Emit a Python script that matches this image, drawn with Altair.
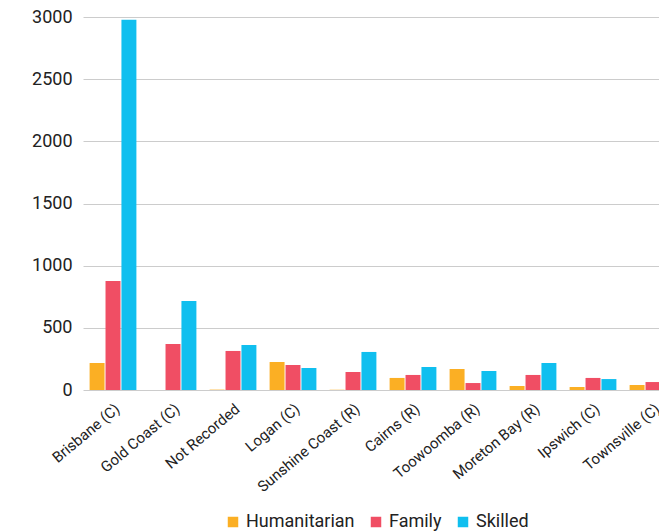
import altair as alt
import pandas as pd

regions = ["Brisbane (C)", "Gold Coast (C)", "Not Recorded", "Logan (C)", "Sunshine Coast (R)",
           "Cairns (R)", "Toowoomba (R)", "Moreton Bay (R)", "Ipswich (C)", "Townsville (C)"]
streams = ["Humanitarian", "Family", "Skilled"]
humanitarian = [217, 0, 3, 225, 2, 97, 169, 32, 24, 40]
family = [877, 370, 314, 201, 145, 121, 56, 121, 97, 64]
skilled = [2977, 716, 362, 177, 306, 185, 153, 217, 88, 60]
colors = ["#FBAF24", "#F04E64", "#10BFEF"]

rows = []
for i, r in enumerate(regions):
    for s, vals in zip(streams, [humanitarian, family, skilled]):
        rows.append({"region": r, "stream": s, "value": vals[i]})
df = pd.DataFrame(rows)

chart = alt.Chart(df).mark_bar().encode(
    x=alt.X("region:N", sort=regions, title=None,
            scale=alt.Scale(range=[0, 600], paddingInner=0.22, paddingOuter=0.11),
            axis=alt.Axis(labelAngle=-40, labelFontSize=15, labelColor="#222",
                          labelFont="Roboto", domain=False, ticks=False, labelPadding=11,
                          labelOverlap=False)),
    xOffset=alt.XOffset("stream:N", sort=streams, scale=alt.Scale(paddingInner=0.06)),
    y=alt.Y("value:Q", title=None,
            scale=alt.Scale(domain=[0, 3000], nice=False),
            axis=alt.Axis(values=[0, 500, 1000, 1500, 2000, 2500, 3000], format="d",
                          labelFontSize=18, labelFont="Roboto", labelColor="#222",
                          domain=False, ticks=False, labelPadding=11, gridColor="#cccccc")),
    color=alt.Color("stream:N", sort=streams,
                    scale=alt.Scale(domain=streams, range=colors),
                    legend=alt.Legend(title=None, orient="none", direction="horizontal",
                                      legendX=141, legendY=496, symbolType="square",
                                      symbolSize=110, symbolStrokeWidth=0, labelFontSize=18,
                                      labelFont="Roboto", labelColor="#222", columnPadding=12,
                                      symbolOpacity=1)),
).properties(
    width=576, height=373,
    autosize=alt.AutoSizeParams(type="none"),
    padding={"left": 83, "top": 17, "right": 0, "bottom": 142},
).configure_view(stroke=None)

chart.save("out.html", embed_options={"renderer": "svg", "actions": False})
